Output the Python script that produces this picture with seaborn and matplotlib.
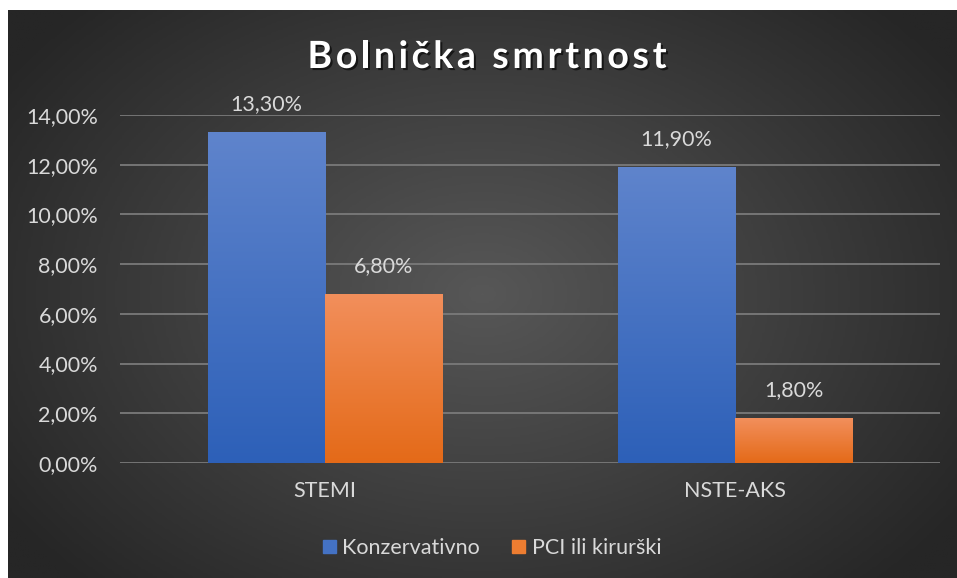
import numpy as np
import pandas as pd
import matplotlib
matplotlib.use("Agg")
import matplotlib.pyplot as plt
import matplotlib.patheffects as pe
from matplotlib.colors import LinearSegmentedColormap
from matplotlib.patches import Rectangle
from matplotlib.ticker import FuncFormatter
import seaborn as sns

# data
categories = ["STEMI", "NSTE-AKS"]
series_names = ["Konzervativno", "PCI ili kirurški"]
konzervativno = [13.3, 11.9]
pci_kirurski = [6.8, 1.8]
title = "Bolnička smrtnost"

df = pd.DataFrame({
    "kategorija": categories * 2,
    "grupa": [series_names[0]] * 2 + [series_names[1]] * 2,
    "vrijednost": konzervativno + pci_kirurski,
})

sns.set_theme(style="white")
plt.rcParams["font.family"] = ["Lato", "DejaVu Sans"]

TXT = "#d9d9d9"
FS = 15.5
fig = plt.figure(figsize=(9.57, 5.78), dpi=100, facecolor="white")

# -------------------------------
# radial background
# -------------------------------
bg = fig.add_axes([8 / 957, 0, 949 / 957, 568 / 578], zorder=-10)
gx, gy = np.meshgrid(np.linspace(-1, 1, 400), np.linspace(-1, 1, 250))
r = np.sqrt((gx * 0.95) ** 2 + (gy * 0.8) ** 2)
r = np.clip(r / 1.15, 0, 1)
bg_cmap = LinearSegmentedColormap.from_list("bg", ["#575757", "#3f3f3f", "#262626"])
bg.imshow(r, cmap=bg_cmap, aspect="auto", extent=[0, 1, 0, 1], vmin=0, vmax=1)
bg.set_axis_off()

# -------------------------------
# bars
# -------------------------------
ax = fig.add_axes([120 / 957, 1 - 463 / 578, 820 / 957, 348 / 578])
ax.patch.set_alpha(0)
sns.barplot(data=df, x="kategorija", y="vrijednost", hue="grupa",
            palette=["#4472c4", "#ed7d31"], width=0.573, ax=ax,
            saturation=1, legend=False)

gradients = [("#5f84cc", "#2d60b8"), ("#f28f5c", "#e46a18")]
bars = [p for p in ax.patches if p.get_height() > 0]
for i, bar in enumerate(bars):
    top_c, bot_c = gradients[i // 2]
    cm = LinearSegmentedColormap.from_list("g", [bot_c, top_c])
    x0, y0 = bar.get_x(), bar.get_y()
    w, h = bar.get_width(), bar.get_height()
    bar.set_edgecolor("none")
    im = ax.imshow(np.linspace(0, 1, 256).reshape(-1, 1), cmap=cm, origin="lower",
                   aspect="auto", extent=[x0, x0 + w, y0, y0 + h], zorder=3)
    im.set_clip_path(bar)
    ax.text(x0 + w / 2, h + 1.13, f"{h:.2f}%".replace(".", ","), ha="center",
            va="center", color=TXT, fontsize=FS)

ax.set_xlim(-0.5, 1.5)
ax.set_ylim(0, 14)
ax.set_yticks(np.arange(0, 15, 2))
ax.yaxis.set_major_formatter(FuncFormatter(lambda v, _: f"{v:.2f}%".replace(".", ",")))
ax.grid(axis="y", color="#7a7a7a", lw=1.3, zorder=0)
ax.set_axisbelow(True)
for s in ax.spines.values():
    s.set_visible(False)
ax.tick_params(axis="y", colors=TXT, labelsize=FS, length=0, pad=16)
ax.tick_params(axis="x", colors=TXT, labelsize=FS, length=0, pad=13)
ax.set_xlabel("")
ax.set_ylabel("")

# title with letter spacing
renderer = fig.canvas.get_renderer()
title_kw = dict(color="white", fontsize=27, fontweight="bold", va="center",
                path_effects=[pe.withSimplePatchShadow(offset=(1.5, -1.5),
                                                       shadow_rgbFace="black", alpha=0.6)])
spacing = 3.6  # px between letters


def text_width(s):
    t = fig.text(0, 0, s, **title_kw)
    wpx = t.get_window_extent(renderer).width
    t.remove()
    return wpx


total = text_width(title) + spacing * (len(title) - 1)
x_start = 487 - total / 2
for i, ch in enumerate(title):
    xpx = x_start + (text_width(title[:i]) if i else 0) + spacing * i
    fig.text(xpx / 957, 1 - 57 / 578, ch, ha="left", **title_kw)

# legend
handles = [Rectangle((0, 0), 1, 1, color=c) for c in ["#4472c4", "#ed7d31"]]
leg = fig.legend(handles, series_names, loc="center", bbox_to_anchor=(492 / 957, 1 - 548 / 578),
                 ncol=2, frameon=False, fontsize=FS, handlelength=0.6, handleheight=0.6,
                 handletextpad=0.3, columnspacing=1.5)
for t in leg.get_texts():
    t.set_color(TXT)

fig.savefig("out.png", dpi=100, facecolor="white")
